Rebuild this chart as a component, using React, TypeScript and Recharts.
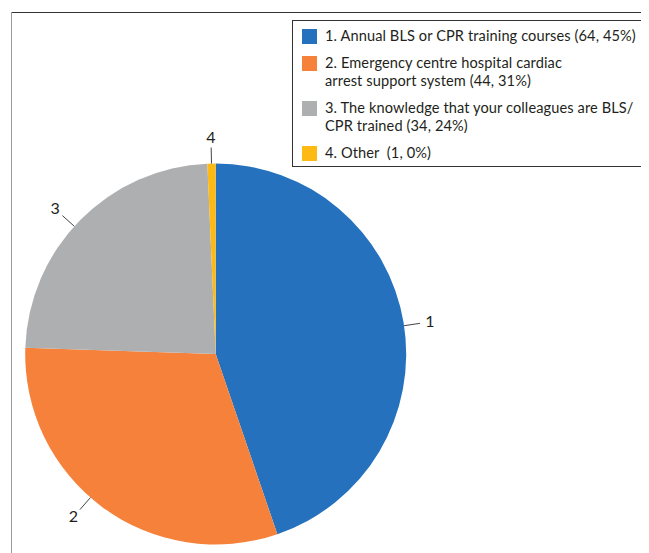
import React from "react";
import { PieChart, Pie, Cell, Legend } from "recharts";

const categories = ["1", "2", "3", "4"];
const values = [64, 44, 34, 1];
const legendLabels = [
  "1. Annual BLS or CPR training courses (64, 45%)",
  "2. Emergency centre hospital cardiac\narrest support system (44, 31%)",
  "3. The knowledge that your colleagues are BLS/\nCPR trained (34, 24%)",
  "4. Other  (1, 0%)",
];
const colors = ["#2571BD", "#F5813A", "#AEAFB1", "#FDBA14"];

// small angular nudges (degrees) applied to the label callouts
const labelNudge = [-0.9, -4.6, 2.6, 0];

const data = categories.map((c, i) => ({ name: c, value: values[i], legend: legendLabels[i], color: colors[i] }));

const FONT = "Lato, 'Open Sans', sans-serif";
const RADIAN = Math.PI / 180;

const renderLabel = (props: any) => {
  const { cx, cy, midAngle, outerRadius, index } = props;
  const a = midAngle + labelNudge[index];
  const cos = Math.cos(-a * RADIAN);
  const sin = Math.sin(-a * RADIAN);
  const x1 = cx + outerRadius * cos;
  const y1 = cy + outerRadius * sin;
  const x2 = cx + (outerRadius + 16) * cos;
  const y2 = cy + (outerRadius + 16) * sin;
  const tx = cx + (outerRadius + 26) * cos;
  const ty = cy + (outerRadius + 26) * sin - 1.5;
  return (
    <g key={`lbl-${index}`}>
      <line x1={x1} y1={y1} x2={x2} y2={y2} stroke="#444" strokeWidth={1} />
      <text x={tx} y={ty} textAnchor="middle" dominantBaseline="central" fill="#231F20" fontSize={16} fontFamily={FONT}>
        {data[index].name}
      </text>
    </g>
  );
};

const LegendBox = () => (
  <div
    style={{
      width: 352,
      height: 147,
      boxSizing: "border-box",
      border: "1px solid #333",
      background: "#fff",
      padding: "6px 8px 6px 9px",
      fontFamily: FONT,
      fontSize: 14.6,
      letterSpacing: 0.1,
      color: "#231F20",
    }}
  >
    {data.map((d, i) => (
      <div key={d.name} style={{ display: "flex", alignItems: "flex-start", marginBottom: i < data.length - 1 ? 8 : 0 }}>
        <div style={{ width: 15, height: 15, background: d.color, flex: "0 0 15px", marginTop: 2, marginRight: 8 }} />
        <div style={{ whiteSpace: "pre", lineHeight: "18.5px" }}>{d.legend}</div>
      </div>
    ))}
  </div>
);

export default function App() {
  return (
    <div style={{ position: "relative", width: 641, height: 545, background: "#fff" }}>
      <div style={{ position: "absolute", left: 3, top: 4, width: 638, height: 1, background: "#333" }} />
      <div style={{ position: "absolute", left: 2.5, top: 4, width: 1.5, height: 541, background: "#999" }} />
      <PieChart width={641} height={545} margin={{ top: 0, right: 0, bottom: 0, left: 0 }}>
        <Pie
          data={data}
          dataKey="value"
          nameKey="name"
          cx={207.7}
          cy={346}
          outerRadius={190.5}
          startAngle={90}
          endAngle={-270}
          stroke="none"
          label={renderLabel}
          labelLine={false}
          isAnimationActive={false}
        >
          {data.map((d) => (
            <Cell key={d.name} fill={d.color} />
          ))}
        </Pie>
        <Legend
          layout="vertical"
          align="right"
          verticalAlign="top"
          content={() => <LegendBox />}
          wrapperStyle={{ position: "absolute", left: 284, top: 12, width: 352, right: "auto" }}
        />
      </PieChart>
    </div>
  );
}
